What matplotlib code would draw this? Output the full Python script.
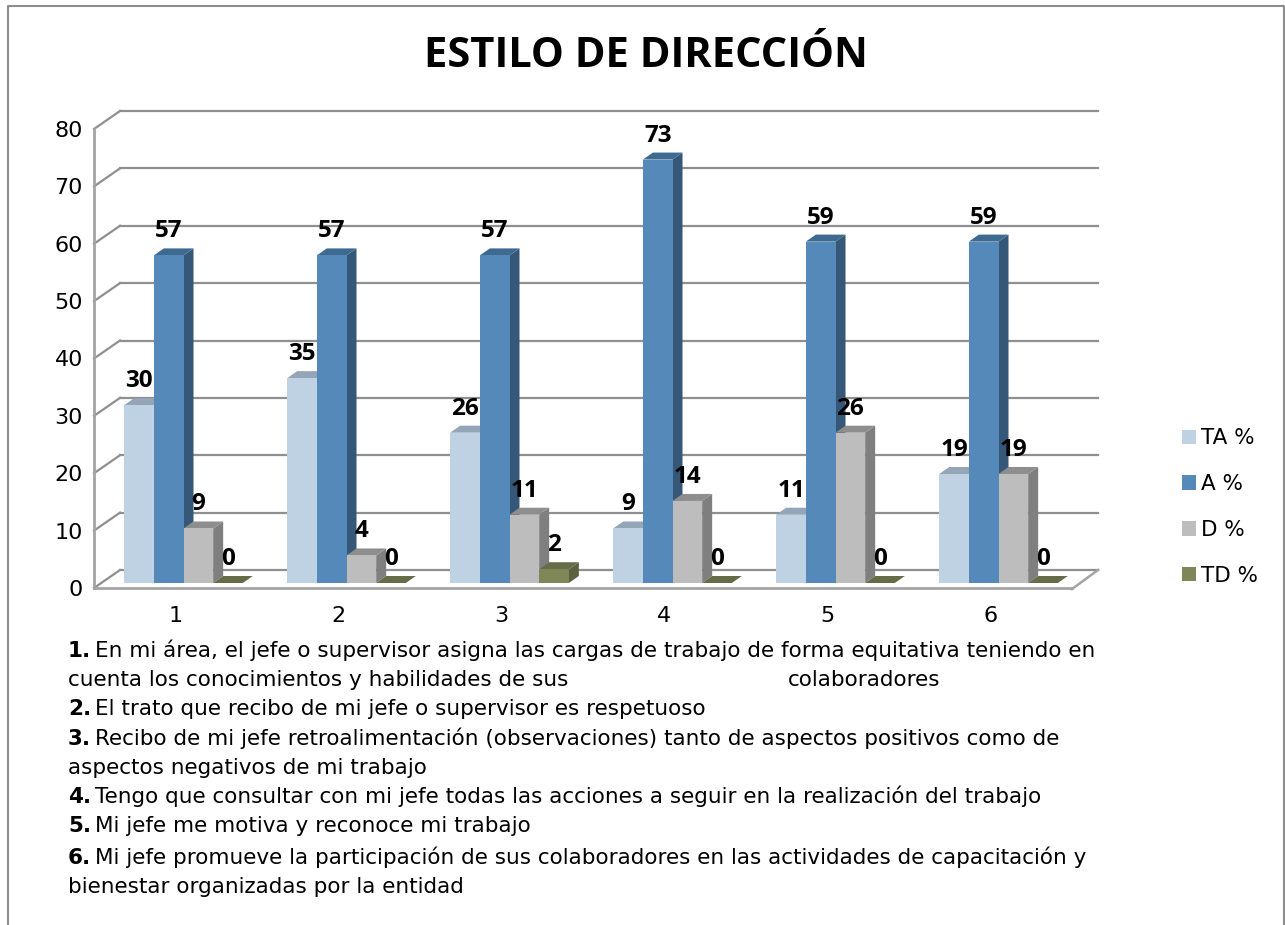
import matplotlib
matplotlib.use('Agg')
import matplotlib.pyplot as plt
from matplotlib.patches import Polygon, Patch
from matplotlib.transforms import Affine2D

plt.rcParams['font.family'] = ['DejaVu Sans']

W, H = 1285, 925

categories = ['1', '2', '3', '4', '5', '6']
series_names = ['TA %', 'A %', 'D %', 'TD %']
ta = [31.0, 35.7, 26.2, 9.5, 11.9, 19.0]
a = [57.1, 57.1, 57.1, 73.8, 59.5, 59.5]
d = [9.5, 4.8, 11.9, 14.3, 26.2, 19.0]
td = [0.0, 0.0, 2.4, 0.0, 0.0, 0.0]
labels_ta = [30, 35, 26, 9, 11, 19]
labels_a = [57, 57, 57, 73, 59, 59]
labels_d = [9, 4, 11, 14, 26, 19]
labels_td = [0, 0, 2, 0, 0, 0]

notes = [
    ('1.', 'En mi área, el jefe o supervisor asigna las cargas de trabajo de forma equitativa teniendo en', 657),
    ('', 'cuenta los conocimientos y habilidades de sus', 686),
    ('2.', 'El trato que recibo de mi jefe o supervisor es respetuoso', 715),
    ('3.', 'Recibo de mi jefe retroalimentación (observaciones) tanto de aspectos positivos como de', 745),
    ('', 'aspectos negativos de mi trabajo', 774),
    ('4.', 'Tengo que consultar con mi jefe todas las acciones a seguir en la realización del trabajo', 803),
    ('5.', 'Mi jefe me motiva y reconoce mi trabajo', 832),
    ('6.', 'Mi jefe promueve la participación de sus colaboradores en las actividades de capacitación y', 864),
    ('', 'bienestar organizadas por la entidad', 893),
]

front = ['#BFD2E4', '#5589B9', '#BDBDBD', '#7F8759']
side = ['#8A9BAC', '#355878', '#7F7F7F', '#5A6040']
top = ['#93A5B6', '#3E6A92', '#8E8E8E', '#666C48']
grid_col = '#8F8F8F'
axis_col = '#A3A3A3'

fig = plt.figure(figsize=(W / 100, H / 100), dpi=100)

# borde del grafico
fig.add_artist(plt.Line2D([7.5 / W, 7.5 / W, 1284 / W, 1284 / W],
                          [0, 1 - 6 / H, 1 - 6 / H, 0], color='#8C8C8C', lw=1.5))

ax = fig.add_axes([94 / W, 1 - 588 / H, (1072 - 94) / W, (588 - 129) / H])
ax.set_xlim(0, 6)
ax.set_ylim(0, 80)
ax.patch.set_visible(False)
for s in ax.spines.values():
    s.set_visible(False)
ax.set_xticks([i + 0.5 for i in range(6)], categories)
ax.set_yticks(range(0, 81, 10))
ax.tick_params(length=0, labelsize=16, pad=8, colors='black')
ax.tick_params(axis='x', pad=13)


def shift(dx, dy):
    # desplazamiento en pixeles para simular la profundidad
    return ax.transData + Affine2D().translate(dx, dy)


DEPTH_X, DEPTH_Y = 26, 18
back = shift(DEPTH_X, DEPTH_Y)
for v in range(0, 81, 10):
    ax.plot([0, 6], [v, v], transform=back, color=grid_col, lw=1.6, zorder=1, clip_on=False)
    p0 = ax.transData.transform((0, v))
    ax.plot([p0[0], p0[0] + DEPTH_X], [p0[1], p0[1] + DEPTH_Y], transform=None,
            color=grid_col, lw=1.6, zorder=1, clip_on=False)
# suelo y eje
p1 = ax.transData.transform((6, 0))
ax.plot([p1[0], p1[0] + DEPTH_X], [p1[1] - 1, p1[1] + DEPTH_Y], transform=None,
        color=axis_col, lw=1.8, zorder=1, clip_on=False)
ax.plot([0, 6], [0, 0], color=axis_col, lw=2, zorder=1.5, clip_on=False)
ax.plot([0, 0], [0, 80], color=axis_col, lw=2, zorder=1.5, clip_on=False)

BAR_W = 0.182
BAR_DX, BAR_DY = 8, 5
BAR_DEPTH_X, BAR_DEPTH_Y = 10, 7
bar_tr = shift(BAR_DX, BAR_DY)
series = [ta, a, d, td]
label_sets = [labels_ta, labels_a, labels_d, labels_td]

z = 2
for g in range(6):
    for k in range(4):
        v = series[k][g]
        x0 = g + 0.5 + (k - 2) * BAR_W
        ax.bar(x0, v, BAR_W, align='edge', color=front[k], transform=bar_tr, zorder=z + 0.2, clip_on=False)
        (fx0, fy0) = bar_tr.transform((x0, 0))
        (fx1, fy1) = bar_tr.transform((x0 + BAR_W, v))
        ax.add_patch(Polygon([(fx1, fy0), (fx1 + BAR_DEPTH_X, fy0 + BAR_DEPTH_Y),
                              (fx1 + BAR_DEPTH_X, fy1 + BAR_DEPTH_Y), (fx1, fy1)],
                             transform=None, facecolor=side[k], edgecolor='none', zorder=z, clip_on=False))
        ax.add_patch(Polygon([(fx0, fy1), (fx1, fy1), (fx1 + BAR_DEPTH_X, fy1 + BAR_DEPTH_Y),
                              (fx0 + BAR_DEPTH_X, fy1 + BAR_DEPTH_Y)],
                             transform=None, facecolor=top[k], edgecolor='none', zorder=z + 0.1, clip_on=False))
        z += 1

for g in range(6):
    for k in range(4):
        x0 = g + 0.5 + (k - 2) * BAR_W + BAR_W / 2
        ax.annotate(str(label_sets[k][g]), (x0, series[k][g]), xytext=(8, 29),
                    textcoords='offset pixels', ha='center', va='center',
                    fontsize=17.5, fontweight='bold', color='black', zorder=100,
                    annotation_clip=False, family=['Open Sans', 'DejaVu Sans'])

fig.text(646 / W, 1 - 67 / H, 'ESTILO DE DIRECCIÓN', ha='center', va='baseline',
         fontsize=30, fontweight='bold', color='black', family=['Open Sans', 'DejaVu Sans'])

handles = [Patch(facecolor=c, edgecolor='none', label=n) for c, n in zip(front, series_names)]
fig.legend(handles=handles, loc='center left', bbox_to_anchor=(1182 / W, 1 - 507 / H),
           frameon=False, fontsize=15.5, handlelength=0.65, handleheight=0.65,
           handletextpad=0.24, labelspacing=1.2, borderpad=0, borderaxespad=0)

# preguntas
TXT = 15.45
for num, body, y in notes:
    x = 68
    if num:
        fig.text(x / W, 1 - y / H, num, fontsize=TXT, fontweight='bold', va='baseline', ha='left')
        x += 27
    fig.text(x / W, 1 - y / H, body, fontsize=TXT, va='baseline', ha='left')
fig.text(788 / W, 1 - 686 / H, 'colaboradores', fontsize=TXT, va='baseline', ha='left')

fig.savefig('out.png', dpi=100)
